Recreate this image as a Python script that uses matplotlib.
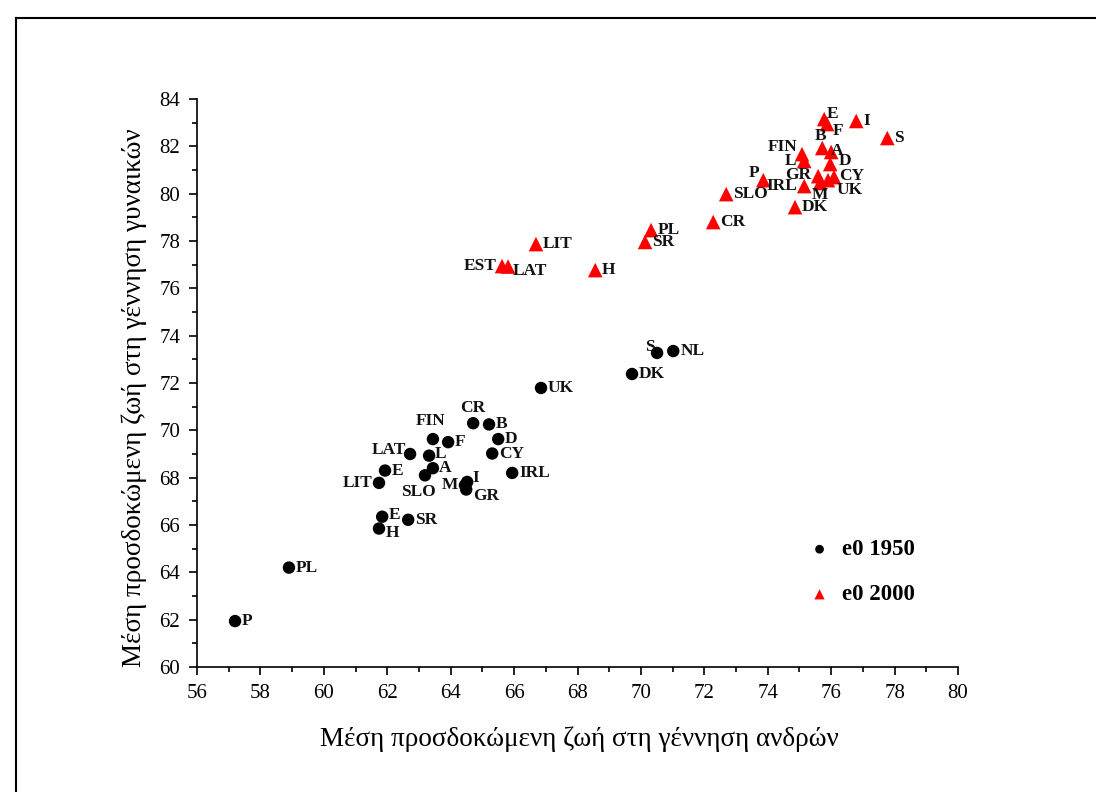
import matplotlib
matplotlib.use("Agg")
import matplotlib.pyplot as plt
from matplotlib.lines import Line2D

plt.rcParams['font.family'] = ['Liberation Serif', 'DejaVu Serif']

# ---- data: 1950 ----
c1950 = ["P", "PL", "H", "E", "SR", "LIT", "E", "LAT", "FIN", "F", "L", "A", "SLO",
         "CR", "B", "D", "CY", "IRL", "I", "M", "GR", "UK", "DK", "S", "NL"]
m1950 = [57.2, 58.9, 61.74, 61.84, 62.66, 61.74, 61.93, 62.72, 63.44, 63.92, 63.32, 63.44, 63.19,
         64.71, 65.21, 65.5, 65.31, 65.94, 64.52, 64.45, 64.49, 66.85, 69.72, 70.51, 71.02]
f1950 = [61.94, 64.2, 65.85, 66.35, 66.22, 67.78, 68.3, 69.0, 69.63, 69.5, 68.93, 68.4, 68.1,
         70.3, 70.25, 69.63, 69.02, 68.2, 67.82, 67.68, 67.5, 71.79, 72.38, 73.27, 73.35]

# ---- data: 2000 ----
c2000 = ["EST", "LAT", "LIT", "H", "PL", "SR", "CR", "SLO", "P", "DK", "IRL", "M", "UK",
         "GR", "CY", "D", "L", "FIN", "B", "A", "E", "F", "I", "S"]
m2000 = [65.62, 65.81, 66.69, 68.56, 70.32, 70.13, 72.28, 72.69, 73.86, 74.86, 75.15, 75.65, 75.9,
         75.59, 76.09, 75.97, 75.15, 75.08, 75.72, 76.0, 75.78, 75.87, 76.79, 77.77]
f2000 = [76.94, 76.92, 77.87, 76.77, 78.46, 77.96, 78.8, 79.98, 80.57, 79.43, 80.32, 80.45, 80.57,
         80.74, 80.7, 81.25, 81.38, 81.67, 81.93, 81.76, 83.15, 82.94, 83.07, 82.35]

x_ticks = list(range(56, 81, 2))
y_ticks = list(range(60, 85, 2))

# label offsets in points (dx, dy, ha, va)
R = (5, 0, 'left', 'center')
off1950 = {
    0: R, 1: R, 2: (5, -3, 'left', 'center'), 3: (5, 1, 'left', 'center'), 4: R,
    5: (-5, 0, 'right', 'center'), 6: R, 7: (-3, 3, 'right', 'center'),
    8: (-2, 7, 'center', 'bottom'), 9: R, 10: (4, 1, 'left', 'center'), 11: (4, 0, 'left', 'center'),
    12: (-5, -6, 'center', 'top'), 13: (0, 5, 'center', 'bottom'), 14: R, 15: R, 16: R, 17: R,
    18: (4, 3, 'left', 'center'), 19: (-5, 0, 'right', 'center'), 20: (5, -5, 'left', 'center'),
    21: R, 22: R, 23: (-2, 4, 'right', 'center'), 24: R,
}
off2000 = {
    0: (-4, 0, 'right', 'center'), 1: (3, -3, 'left', 'center'), 2: R, 3: R, 4: R, 5: R, 6: R, 7: R,
    8: (-3, 5, 'right', 'center'), 9: R, 10: (-5, 0, 'right', 'center'), 11: (0, -3, 'center', 'top'),
    12: (6, -7, 'left', 'center'), 13: (-5, 1, 'right', 'center'), 14: (4, 1, 'left', 'center'),
    15: (6, 2, 'left', 'center'), 16: (-6, 0, 'right', 'center'), 17: (-3, 5, 'right', 'center'),
    18: (-1, 3, 'center', 'bottom'), 19: (0, 1, 'left', 'center'), 20: (2, 4, 'left', 'center'),
    21: (4, -5, 'left', 'center'), 22: R, 23: R,
}

fig = plt.figure(figsize=(10.96, 7.92), dpi=100)
ax = fig.add_axes([197 / 1096, 1 - 667 / 792, (958 - 197) / 1096, (667 - 99) / 792])

ax.scatter(m1950, f1950, s=80, marker='o', color='black', edgecolors='none', label='e0 1950', zorder=3)
ax.scatter(m2000, f2000, s=110, marker='^', color='#ff0000', edgecolors='none', label='e0 2000', zorder=3)

lab_font = dict(fontsize=12.5, fontweight='bold', color='#111111')
for i, (x, y, t) in enumerate(zip(m1950, f1950, c1950)):
    dx, dy, ha, va = off1950.get(i, R)
    ax.annotate(t, (x, y), xytext=(dx, dy), textcoords='offset points', ha=ha, va=va, zorder=4, **lab_font)
for i, (x, y, t) in enumerate(zip(m2000, f2000, c2000)):
    dx, dy, ha, va = off2000.get(i, R)
    ax.annotate(t, (x, y), xytext=(dx, dy), textcoords='offset points', ha=ha, va=va, zorder=4, **lab_font)

ax.set_xlim(56, 80)
ax.set_ylim(60, 84)
ax.set_xticks(x_ticks)
ax.set_yticks(y_ticks)
ax.set_xticks(range(56, 81), minor=True)
ax.set_yticks(range(60, 85), minor=True)
for s in ['top', 'right']:
    ax.spines[s].set_visible(False)
for s in ['left', 'bottom']:
    ax.spines[s].set_linewidth(1.2)
ax.tick_params(which='major', direction='out', length=6, width=1.2, labelsize=15, pad=6)
ax.tick_params(which='minor', direction='out', length=3.5, width=1.2)

ax.set_xlabel('Μέση προσδοκώμενη ζωή στη γέννηση ανδρών', fontsize=19.5)
ax.set_ylabel('Μέση προσδοκώμενη ζωή στη γέννηση γυναικών', fontsize=19.5)
ax.xaxis.set_label_coords(0.503, -0.105)
ax.yaxis.set_label_coords(-0.066, 0.475)

leg = ax.legend(loc='upper left', bbox_to_anchor=(0.803, 0.225), borderaxespad=0, borderpad=0,
                frameon=False, handlelength=1.0, handletextpad=0.5, labelspacing=1.05,
                prop={'size': 16.5, 'weight': 'bold'}, markerscale=0.7)

# page border
fig.add_artist(Line2D([16 / 1096, 1], [1 - 18 / 792, 1 - 18 / 792], transform=fig.transFigure,
                      color='black', linewidth=1.5))
fig.add_artist(Line2D([16 / 1096, 16 / 1096], [0, 1 - 18 / 792], transform=fig.transFigure,
                      color='black', linewidth=1.5))

fig.savefig('out.png', dpi=100)
